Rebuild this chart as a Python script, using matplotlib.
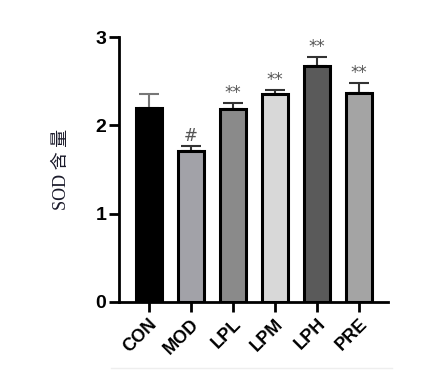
import matplotlib.pyplot as plt
import numpy as np

groups = ['CON', 'MOD', 'LPL', 'LPM', 'LPH', 'PRE']
means = [2.20, 1.71, 2.18, 2.35, 2.67, 2.37]
errs = [0.16, 0.06, 0.07, 0.05, 0.10, 0.11]
marks = ['', '#', '**', '**', '**', '**']
colors = ['#000000', '#a2a2a8', '#8a8a8a', '#d8d8d8', '#5a5a5a', '#a4a4a4']

plt.rcParams['font.family'] = ['Liberation Sans', 'DejaVu Sans']

fig = plt.figure(figsize=(4.45, 3.86), dpi=100)
ax = fig.add_axes([0.267, 0.218, 0.605, 0.686])

x = np.arange(len(groups))
ax.bar(x, means, width=0.62, color=colors, edgecolor='black', linewidth=2.2, zorder=2)
for i in range(len(groups)):
    ec = '#777777' if i == 0 else '#333333'
    ax.errorbar(x[i], means[i], yerr=[[0], [errs[i]]], fmt='none', ecolor=ec,
                elinewidth=1.5, capsize=7, capthick=1.5, zorder=1)
    if marks[i]:
        ax.text(x[i], means[i] + errs[i] + 0.01, marks[i], ha='center', va='bottom',
                fontsize=12, color='#555555', family=['DejaVu Sans'])

ax.set_xlim(-0.71, 5.69)
ax.set_ylim(0, 3)
ax.set_yticks([0, 1, 2, 3])
ax.set_xticks(x)
ax.set_xticklabels(groups, rotation=45, ha='right', rotation_mode='anchor',
                   fontsize=13, fontweight='bold')
for lab in ax.get_yticklabels():
    lab.set_fontsize(14)
    lab.set_fontweight('bold')
ax.tick_params(axis='both', direction='out', length=7, width=2)
ax.tick_params(axis='x', pad=3)
ax.tick_params(axis='y', pad=2)
ax.spines['top'].set_visible(False)
ax.spines['right'].set_visible(False)
ax.spines['left'].set_linewidth(2)
ax.spines['bottom'].set_linewidth(2)

ax.set_ylabel('SOD 含 量', fontsize=13, family=['Liberation Serif', 'Noto Sans CJK SC'],
              color='#1a1a2a', labelpad=18)

fig.add_artist(plt.Line2D([0.25, 0.88], [0.047, 0.047], color='#eeeeee', linewidth=1))

plt.savefig('out.png', dpi=100)
